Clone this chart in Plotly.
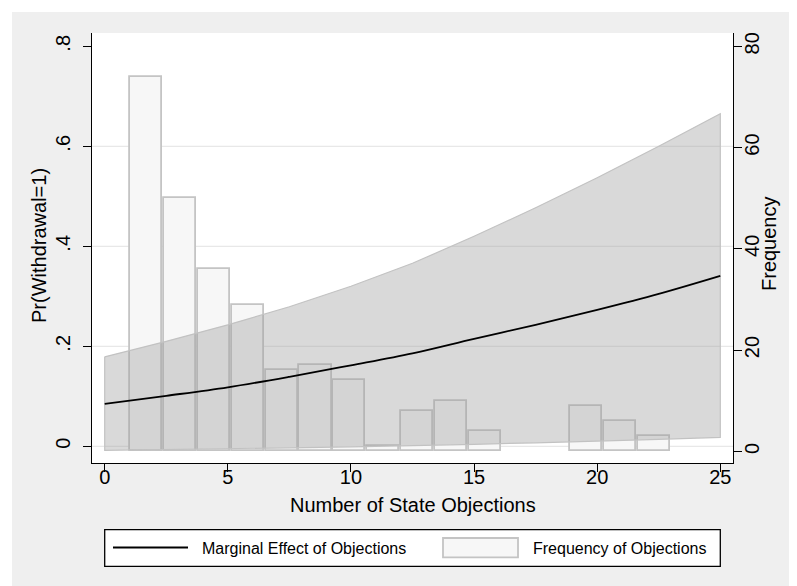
import plotly.graph_objects as go

# ---------------- data ----------------
# Predicted Pr(Withdrawal=1) with 95% CI, by number of state objections
x_obj = [0, 2.5, 5, 7.5, 10, 12.5, 15, 17.5, 20, 22.5, 25]
pr_mean = [0.085, 0.101, 0.118, 0.139, 0.162, 0.186, 0.215, 0.243, 0.273, 0.305, 0.341]
pr_upper = [0.179, 0.210, 0.243, 0.279, 0.320, 0.366, 0.420, 0.477, 0.537, 0.600, 0.665]
pr_lower = [-0.008, -0.007, -0.005, -0.003, -0.001, 0.001, 0.004, 0.007, 0.010, 0.014, 0.018]

# Histogram of objections (frequency): 16 bins starting at 1, width 1.375
bin_start = 1.0
bin_width = 1.375
freq = [74, 50, 36, 29, 16, 17, 14, 1, 8, 10, 4, 0, 0, 9, 6, 3]

x_ticks = [0, 5, 10, 15, 20, 25]
y_ticks = [0, 0.2, 0.4, 0.6, 0.8]
y_ticktext = ["0", ".2", ".4", ".6", ".8"]
y2_ticks = [0, 20, 40, 60, 80]

x_title = "Number of State Objections"
y_title = "Pr(Withdrawal=1)"
y2_title = "Frequency"
legend_labels = ["Marginal Effect of Objections", "Frequency of Objections"]

# ---------------- figure ----------------
FONT = "Liberation Sans, Arial, Helvetica, sans-serif"
W, H = 797, 586
L, R, T, B = 84, 725, 25, 455  # plot area in pixels


def px_x(p):
    return (p - L) / (R - L)


def px_y(p):
    return (B - p) / (B - T)


bin_centers = [bin_start + (i + 0.5) * bin_width for i in range(len(freq))]
bar_vals = [f if f > 0 else None for f in freq]

band_x = x_obj + x_obj[::-1] + [x_obj[0]]
band_y = pr_upper + pr_lower[::-1] + [pr_upper[0]]

fig = go.Figure()

# histogram on the primary (frequency, right-side) axis -> drawn first
fig.add_trace(go.Bar(
    x=bin_centers, y=bar_vals, width=bin_width * 0.95, yaxis="y",
    marker=dict(color="#f7f7f7", line=dict(color="#c4c4c4", width=1.8)),
    name=legend_labels[1], hoverinfo="x+y",
))

# CI band and line on the overlaid probability axis (left side) -> drawn on top
fig.add_trace(go.Scatter(
    x=band_x, y=band_y, mode="lines", fill="toself", yaxis="y2",
    fillcolor="rgba(160,160,160,0.40)",
    line=dict(color="#c2c2c2", width=1.2),
    name="95% CI", hoverinfo="skip",
))

fig.add_trace(go.Scatter(
    x=x_obj, y=pr_mean, mode="lines", yaxis="y2",
    line=dict(color="black", width=1.8, shape="spline"),
    name=legend_labels[0],
))

shapes = []
# horizontal gridlines (Stata omits the one at the top)
for v in y_ticks[:-1]:
    shapes.append(dict(type="line", xref="paper", yref="y2", x0=0, x1=1, y0=v, y1=v,
                       line=dict(color="#e8e8e8", width=1.2), layer="below"))

# thin white border around the grey graph region
shapes.append(dict(type="rect", xref="paper", yref="paper",
                   x0=px_x(-5), x1=px_x(W + 5), y0=px_y(4), y1=px_y(-5),
                   fillcolor="white", line=dict(width=0)))
shapes.append(dict(type="rect", xref="paper", yref="paper",
                   x0=px_x(-5), x1=px_x(4), y0=px_y(H + 5), y1=px_y(-5),
                   fillcolor="white", line=dict(width=0)))

# legend box
shapes.append(dict(type="rect", xref="paper", yref="paper",
                   x0=px_x(96.7), x1=px_x(712.3), y0=px_y(558.3), y1=px_y(521.7),
                   fillcolor="white", line=dict(color="black", width=1.3)))
shapes.append(dict(type="line", xref="paper", yref="paper",
                   x0=px_x(105), x1=px_x(180), y0=px_y(539.5), y1=px_y(539.5),
                   line=dict(color="black", width=1.8)))
shapes.append(dict(type="rect", xref="paper", yref="paper",
                   x0=px_x(435), x1=px_x(510), y0=px_y(549.3), y1=px_y(530),
                   fillcolor="#f7f7f7", line=dict(color="#c4c4c4", width=1.8)))

annotations = [
    dict(text=x_title, xref="paper", yref="paper", x=0.5, y=px_y(497),
         xanchor="center", yanchor="middle", showarrow=False,
         font=dict(family=FONT, size=20, color="black")),
    dict(text=y_title, xref="paper", yref="paper", x=px_x(31), y=px_y(238),
         xanchor="center", yanchor="middle", showarrow=False, textangle=-90,
         font=dict(family=FONT, size=20, color="black")),
    dict(text=y2_title, xref="paper", yref="paper", x=px_x(761), y=px_y(236),
         xanchor="center", yanchor="middle", showarrow=False, textangle=-90,
         font=dict(family=FONT, size=20, color="black")),
    dict(text=legend_labels[0], xref="paper", yref="paper", x=px_x(192.3), y=px_y(540),
         xanchor="left", yanchor="middle", showarrow=False,
         font=dict(family=FONT, size=16, color="black")),
    dict(text=legend_labels[1], xref="paper", yref="paper", x=px_x(522.7), y=px_y(540),
         xanchor="left", yanchor="middle", showarrow=False,
         font=dict(family=FONT, size=16, color="black")),
]

axis_common = dict(
    showgrid=False, zeroline=False, showline=True, linecolor="black", linewidth=1.3,
    ticks="outside", ticklen=8, tickwidth=1.3, tickcolor="black",
    tickfont=dict(family=FONT, size=20, color="black"),
)

fig.update_layout(
    width=W, height=H,
    margin=dict(l=L, r=W - R, t=T, b=H - B, pad=0),
    paper_bgcolor="#efefef", plot_bgcolor="white",
    showlegend=False,
    bargap=0,
    xaxis=dict(range=[-0.516, 25.516], tickvals=x_ticks, ticklabelstandoff=-12,
               **axis_common),
    yaxis=dict(range=[-2.31, 82.63], tickvals=y2_ticks, side="right",
               tickangle=-90, ticklabelstandoff=-7, **axis_common),
    yaxis2=dict(range=[-0.0334, 0.8266], tickvals=y_ticks, ticktext=y_ticktext,
                overlaying="y", side="left", tickangle=-90, ticklabelstandoff=5,
                **axis_common),
    shapes=shapes,
    annotations=annotations,
    font=dict(family=FONT, color="black"),
)

fig.write_html("out.html")
